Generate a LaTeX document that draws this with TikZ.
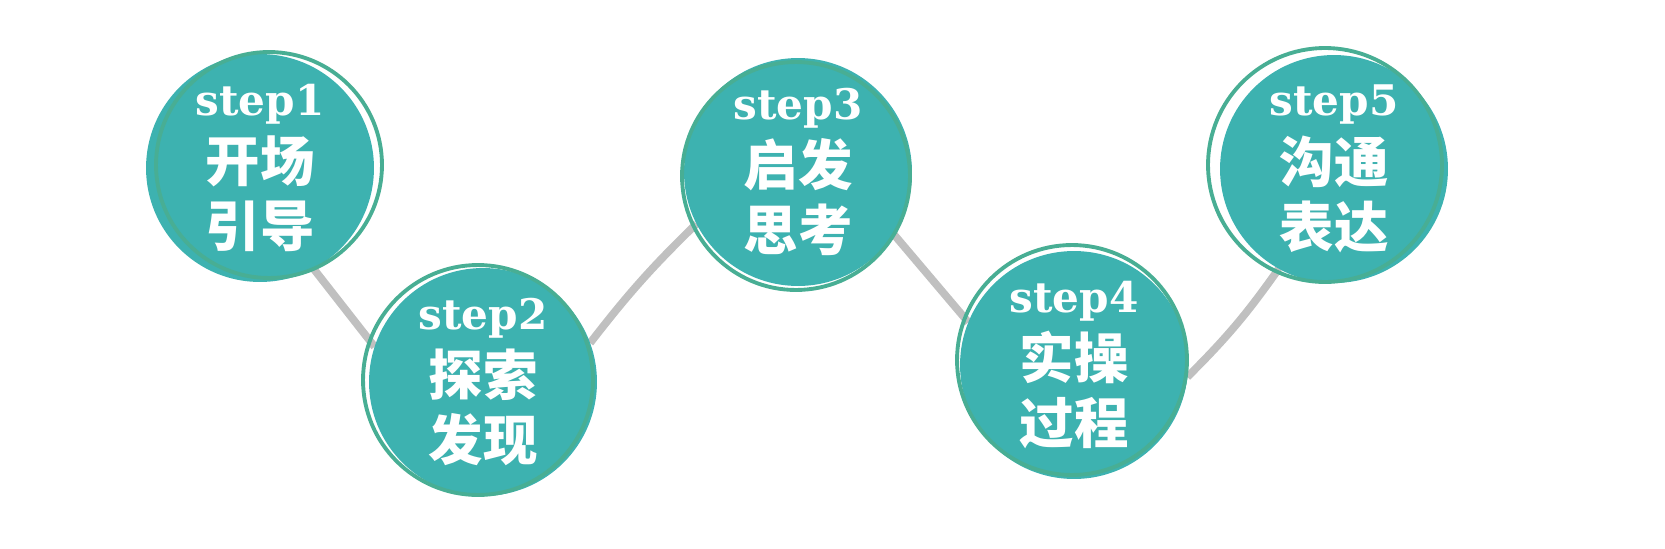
\documentclass[tikz,border=0pt]{standalone}
\usepackage{fontspec}
\newfontfamily\cjk{Noto Sans CJK SC Black}
\newfontfamily\stepfont{DejaVu Serif}
\usetikzlibrary{backgrounds}
\definecolor{tealfill}{RGB}{61,178,176}
\definecolor{ringgreen}{RGB}{72,174,148}
\definecolor{linkgray}{RGB}{192,192,192}
\newcommand\steplabel[1]{{\stepfont\bfseries\fontsize{24}{24}\selectfont step#1}}

\begin{document}
\begin{tikzpicture}
    [x=0.02cm, y=-0.02cm,
    bubble/.style={circle, fill=tealfill, minimum size=4.56cm, inner sep=0pt, outer sep=0pt,
        text=white, align=center, font=\cjk\fontsize{31}{37}\selectfont},
    ring/.style={draw=ringgreen, line width=2.2pt},
    link/.style={draw=linkgray, line width=4.4pt}]
        \useasboundingbox (0,0) rectangle (1665,548);
        %% bubbles
        \node[bubble] (s1) at (260,168) {\steplabel{1}\\[1pt]开场\\引导};
        \node[bubble] (s2) at (483,382) {\steplabel{2}\\[1pt]探索\\发现};
        \node[bubble] (s3) at (798,172) {\steplabel{3}\\[1pt]启发\\思考};
        \node[bubble] (s4) at (1074,365) {\steplabel{4}\\[1pt]实操\\过程};
        \node[bubble] (s5) at (1334,169) {\steplabel{5}\\[1pt]沟通\\表达};

        %% rings
        \draw[ring] ([shift={(9,-3)}]s1.center) circle[radius=2.26cm];
        \draw[ring] ([shift={(-5,-2)}]s2.center) circle[radius=2.30cm];
        \draw[ring] ([shift={(-2,4)}]s3.center) circle[radius=2.28cm];
        \draw[ring] ([shift={(-2,-5)}]s4.center) circle[radius=2.30cm];
        \draw[ring] ([shift={(-9,-4)}]s5.center) circle[radius=2.34cm];

        %% path
        \begin{scope}[on background layer]
        \draw[link] (s1.-62) to (s2.162);
        \draw[link] (s2.20) to[bend left=4] (s3.207);
        \draw[link] (s3.-33) to (s4.158);
        \draw[link] (s4.-6) to[bend right=5] (s5.241);
        \end{scope}
    \end{tikzpicture}
\end{document}
